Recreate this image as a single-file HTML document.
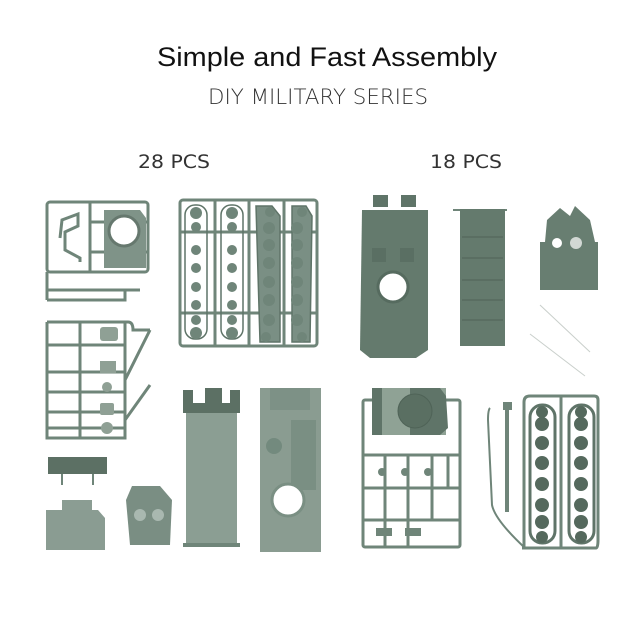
<!DOCTYPE html>
<html><head><meta charset="utf-8"><style>
html,body{margin:0;padding:0;background:#fff;}
svg{display:block;}
</style></head><body>
<svg width="640" height="640" viewBox="0 0 640 640" xmlns="http://www.w3.org/2000/svg">
<rect width="640" height="640" fill="#fff"/>
<text x="327" y="66" font-family="Liberation Sans, sans-serif" font-size="27" fill="#111" text-anchor="middle" textLength="340" lengthAdjust="spacingAndGlyphs">Simple and Fast Assembly</text>
<text x="318" y="104" font-family="DejaVu Sans, sans-serif" font-weight="200" font-size="21" fill="#333" text-anchor="middle" textLength="220" lengthAdjust="spacingAndGlyphs">DIY MILITARY SERIES</text>
<text x="174" y="168" font-family="DejaVu Sans, sans-serif" font-size="19" fill="#333" text-anchor="middle" textLength="72" lengthAdjust="spacingAndGlyphs">28 PCS</text>
<text x="466" y="168" font-family="DejaVu Sans, sans-serif" font-size="19" fill="#333" text-anchor="middle" textLength="72" lengthAdjust="spacingAndGlyphs">18 PCS</text>

<g stroke="#6f8579" stroke-width="3" fill="none">
<!-- Sprue A -->
<rect x="47" y="202" width="101" height="70" rx="3"/>
<line x1="90" y1="202" x2="90" y2="272"/>
<line x1="47" y1="290" x2="140" y2="290"/>
<line x1="47" y1="272" x2="47" y2="300"/>
<polyline points="47,300 125,300 125,290"/>
<polyline points="60,238 62,220 78,214 78,226 65,232 65,250 80,258 80,262"/>
<line x1="90" y1="222" x2="148" y2="222"/>
<line x1="90" y1="252" x2="148" y2="252"/>
<!-- Sprue B -->
<rect x="180" y="200" width="137" height="146" rx="3"/>
<line x1="215" y1="200" x2="215" y2="346"/>
<line x1="249" y1="200" x2="249" y2="346"/>
<line x1="284" y1="200" x2="284" y2="346"/>
<line x1="180" y1="232" x2="317" y2="232"/>
<line x1="180" y1="313" x2="317" y2="313"/>
<!-- Sprue C -->
<path d="M47,322 H128 Q133,322 133,330 L150,330 M47,322 V438 H125 V322"/>
<line x1="80" y1="322" x2="80" y2="438"/>
<line x1="47" y1="345" x2="125" y2="345"/>
<line x1="47" y1="372" x2="125" y2="372"/>
<line x1="47" y1="392" x2="125" y2="392"/>
<line x1="47" y1="412" x2="125" y2="412"/>
<line x1="47" y1="428" x2="125" y2="428"/>
<line x1="125" y1="380" x2="150" y2="330"/>
<line x1="125" y1="420" x2="150" y2="385"/>
<!-- Sprue D -->
<rect x="363" y="400" width="97" height="147" rx="2"/>
<line x1="363" y1="455" x2="460" y2="455"/>
<line x1="363" y1="488" x2="460" y2="488"/>
<line x1="363" y1="520" x2="460" y2="520"/>
<line x1="385" y1="455" x2="385" y2="547"/>
<line x1="408" y1="455" x2="408" y2="547"/>
<line x1="432" y1="455" x2="432" y2="520"/>
<line x1="448" y1="455" x2="448" y2="488"/>
<!-- Sprue E -->
<path d="M522,548 H596 Q598,548 598,540 V400 Q598,396 594,396 H530 Q524,396 524,402 V548"/>
<line x1="561" y1="396" x2="561" y2="548"/>
<path d="M490,408 Q488,410 488,420 L492,505 Q495,520 525,548" stroke-width="2"/>
<line x1="507" y1="405" x2="507" y2="512" stroke-width="4"/>
</g>

<!-- Sprue A turret block -->
<path d="M104,210 L140,210 L146,218 L146,268 L104,268 Z" fill="#7f9388"/>
<circle cx="124" cy="231" r="15" fill="#fff" stroke="#66786e" stroke-width="3"/>

<!-- Sprue B tracks -->
<g fill="#7a8f84" stroke="#5f7468" stroke-width="1.5">
<rect x="185" y="205" width="22" height="134" rx="10" fill="none"/>
<rect x="221" y="205" width="22" height="134" rx="10" fill="none"/>
<path d="M256,206 L272,206 L280,216 L280,342 L260,342 Z"/>
<path d="M292,206 L306,206 L312,216 L310,342 L292,342 Z"/>
</g>
<g fill="#6f8579">
<circle cx="196" cy="213" r="6"/><circle cx="232" cy="213" r="6"/>
<circle cx="196" cy="227" r="5"/><circle cx="232" cy="227" r="5"/>
<circle cx="196" cy="250" r="5"/><circle cx="232" cy="250" r="5"/>
<circle cx="196" cy="268" r="5"/><circle cx="232" cy="268" r="5"/>
<circle cx="196" cy="287" r="5"/><circle cx="232" cy="287" r="5"/>
<circle cx="196" cy="305" r="5"/><circle cx="232" cy="305" r="5"/>
<circle cx="196" cy="320" r="5"/><circle cx="232" cy="320" r="5"/>
<circle cx="196" cy="333" r="6"/><circle cx="232" cy="333" r="6"/>
<circle cx="270" cy="212" r="5"/><circle cx="302" cy="212" r="5"/>
<circle cx="269" cy="228" r="6"/><circle cx="297" cy="228" r="6"/>
<circle cx="269" cy="245" r="6"/><circle cx="297" cy="245" r="6"/>
<circle cx="269" cy="263" r="6"/><circle cx="297" cy="263" r="6"/>
<circle cx="269" cy="282" r="6"/><circle cx="297" cy="282" r="6"/>
<circle cx="269" cy="300" r="6"/><circle cx="297" cy="300" r="6"/>
<circle cx="269" cy="320" r="6"/><circle cx="297" cy="320" r="6"/>
<circle cx="266" cy="337" r="5"/><circle cx="302" cy="337" r="5"/>
</g>

<!-- Sprue C small parts -->
<g fill="#8fa095">
<rect x="100" y="327" width="18" height="14" rx="3"/>
<rect x="100" y="361" width="16" height="12"/>
<circle cx="107" cy="387" r="5"/>
<rect x="100" y="403" width="14" height="12" rx="2"/>
<circle cx="107" cy="428" r="6"/>
</g>

<!-- bottom left small parts -->
<rect x="48" y="457" width="59" height="17" fill="#5c7064"/>
<line x1="62" y1="474" x2="62" y2="485" stroke="#6f8579" stroke-width="2"/>
<line x1="93" y1="474" x2="93" y2="485" stroke="#6f8579" stroke-width="2"/>
<rect x="62" y="500" width="30" height="10" fill="#8b9d93"/>
<path d="M46,510 L98,510 L105,518 L105,550 L46,550 Z" fill="#8a9c92"/>
<path d="M132,486 L160,486 L172,500 L170,545 L130,545 L126,500 Z" fill="#7a8e83"/>
<circle cx="140" cy="515" r="6" fill="#a9b8b0"/><circle cx="158" cy="515" r="6" fill="#a9b8b0"/>

<!-- hull bottom piece 1 -->
<path d="M183,390 L193,390 L193,403 L205,403 L205,388 L222,388 L222,403 L230,403 L230,390 L240,390 L240,413 L183,413 Z" fill="#5c7064"/>
<rect x="186" y="413" width="51" height="133" fill="#8b9e93"/>
<rect x="183" y="543" width="57" height="4" fill="#6f8579"/>
<!-- hull bottom piece 2 -->
<rect x="260" y="388" width="61" height="164" fill="#8a9c91"/>
<rect x="270" y="388" width="40" height="22" fill="#7d9186"/>
<rect x="291" y="420" width="25" height="70" fill="#7a8f83"/>
<circle cx="288" cy="500" r="16" fill="#fff" stroke="#7a8f83" stroke-width="3"/>
<circle cx="274" cy="446" r="8" fill="#738a7e"/>

<!-- top right hull -->
<rect x="373" y="195" width="15" height="12" fill="#5f7468"/>
<rect x="401" y="195" width="15" height="12" fill="#5f7468"/>
<path d="M362,210 L428,210 L428,350 L416,358 L370,358 L360,350 Z" fill="#647a6d"/>
<circle cx="393" cy="287" r="15" fill="#fff" stroke="#566b5f" stroke-width="3"/>
<rect x="372" y="248" width="14" height="14" fill="#5a6f63"/><rect x="400" y="248" width="14" height="14" fill="#5a6f63"/>
<!-- track panel -->
<line x1="453" y1="210" x2="507" y2="210" stroke="#6f8579" stroke-width="2"/>
<rect x="460" y="209" width="45" height="137" fill="#647a6d"/>
<g stroke="#566a5e" stroke-width="1.5">
<line x1="462" y1="237" x2="503" y2="237"/><line x1="462" y1="258" x2="503" y2="258"/>
<line x1="462" y1="280" x2="503" y2="280"/><line x1="462" y1="300" x2="503" y2="300"/>
<line x1="462" y1="320" x2="503" y2="320"/>
</g>
<!-- turret shell -->
<path d="M547,220 L560,208 L570,216 L575,206 L590,220 L595,242 L598,242 L598,290 L540,290 L540,242 L545,242 Z" fill="#687e71"/>
<circle cx="557" cy="243" r="5" fill="#fff"/><circle cx="576" cy="243" r="6" fill="#fff" opacity=".7"/>
<line x1="540" y1="305" x2="590" y2="352" stroke="#c9cfcb" stroke-width="1"/>
<line x1="530" y1="334" x2="585" y2="376" stroke="#c9cfcb" stroke-width="1"/>

<!-- sprue D turret -->
<rect x="372" y="388" width="74" height="47" fill="#8fa295"/>
<rect x="372" y="388" width="10" height="47" fill="#5f7468"/>
<path d="M410,388 L440,388 L446,396 L448,428 L440,435 L410,435 Z" fill="#5f7468"/>
<circle cx="415" cy="411" r="17" fill="#5a6f62" stroke="#4f6357"/>
<g fill="#6f8579">
<rect x="376" y="528" width="16" height="8"/><rect x="405" y="528" width="16" height="8"/>
<circle cx="382" cy="472" r="4"/><circle cx="405" cy="472" r="4"/><circle cx="428" cy="472" r="4"/>
</g>

<!-- sprue E tracks -->
<g fill="none" stroke="#5f7468" stroke-width="3">
<rect x="530" y="405" width="25" height="138" rx="12"/>
<rect x="569" y="405" width="25" height="138" rx="12"/>
</g>
<g fill="#55695d">
<circle cx="542" cy="412" r="6"/><circle cx="581" cy="412" r="6"/>
<circle cx="542" cy="424" r="7"/><circle cx="581" cy="424" r="7"/>
<circle cx="542" cy="443" r="7"/><circle cx="581" cy="443" r="7"/>
<circle cx="542" cy="463" r="7"/><circle cx="581" cy="463" r="7"/>
<circle cx="542" cy="484" r="7"/><circle cx="581" cy="484" r="7"/>
<circle cx="542" cy="505" r="7"/><circle cx="581" cy="505" r="7"/>
<circle cx="542" cy="522" r="7"/><circle cx="581" cy="522" r="7"/>
<circle cx="542" cy="537" r="6"/><circle cx="581" cy="537" r="6"/>
</g>
<rect x="503" y="402" width="9" height="8" fill="#6f8579"/>
</svg>
</body></html>
